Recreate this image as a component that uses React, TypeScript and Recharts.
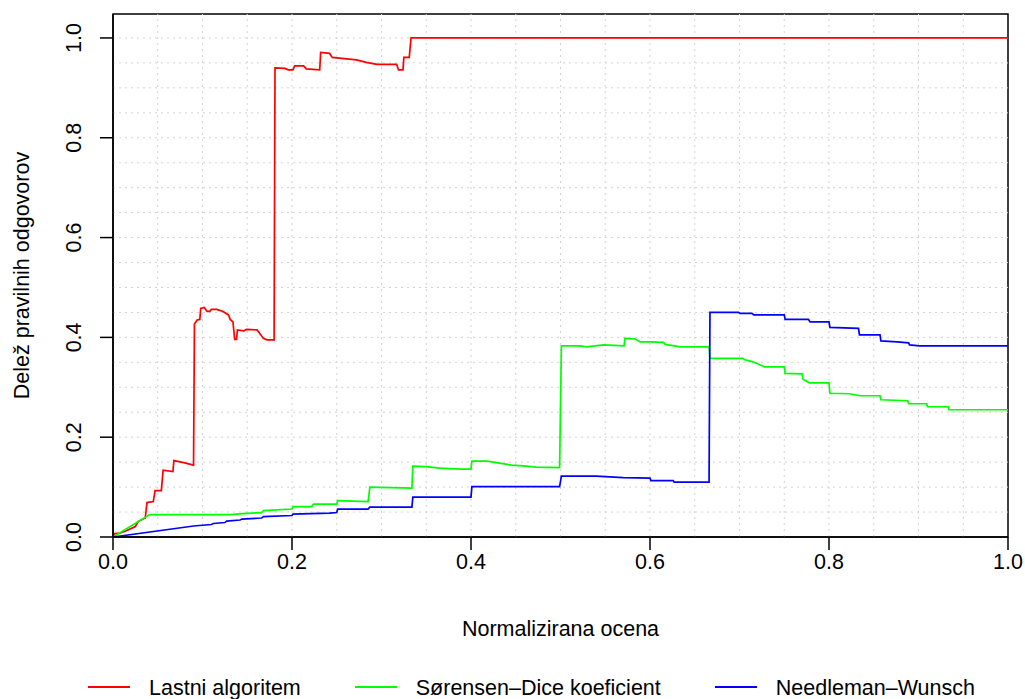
import React from 'react';
import { LineChart, Line, XAxis, YAxis, ReferenceLine, ReferenceArea } from 'recharts';

const FONT = '"Liberation Sans", Arial, Helvetica, sans-serif';
const FONT_SIZE = 21.5;

// Lastni algoritem
const lastniX = [
  0, 0.002, 0.008, 0.013, 0.025, 0.028, 0.036, 0.038, 0.045, 0.047, 0.054, 0.056, 0.067, 0.068,
  0.079, 0.09, 0.091, 0.094, 0.097, 0.098, 0.102, 0.105, 0.108, 0.11, 0.116, 0.123, 0.129, 0.131,
  0.134, 0.136, 0.138, 0.139, 0.146, 0.149, 0.161, 0.164, 0.168, 0.172, 0.18, 0.181, 0.192, 0.196,
  0.201, 0.203, 0.213, 0.216, 0.231, 0.232, 0.242, 0.245, 0.272, 0.283, 0.295, 0.317, 0.319, 0.324,
  0.325, 0.331, 0.333, 1.0,
];
const lastniY = [
  0, 0.007, 0.008, 0.011, 0.021, 0.031, 0.038, 0.069, 0.071, 0.093, 0.093, 0.134, 0.131, 0.153,
  0.149, 0.144, 0.427, 0.435, 0.436, 0.458, 0.46, 0.452, 0.452, 0.456, 0.456, 0.452, 0.445, 0.436,
  0.431, 0.396, 0.396, 0.415, 0.413, 0.416, 0.415, 0.408, 0.398, 0.395, 0.395, 0.94, 0.939, 0.936,
  0.936, 0.944, 0.944, 0.938, 0.936, 0.971, 0.969, 0.961, 0.956, 0.951, 0.947, 0.947, 0.936, 0.936,
  0.961, 0.961, 1.0, 1.0,
];

// Sørensen–Dice koeficient
const diceX = [
  0, 0.041, 0.131, 0.145, 0.166, 0.168, 0.2, 0.201, 0.222, 0.224, 0.25, 0.251, 0.285, 0.287, 0.334,
  0.335, 0.35, 0.365, 0.388, 0.4, 0.401, 0.418, 0.432, 0.445, 0.462, 0.473, 0.499, 0.501, 0.522,
  0.529, 0.548, 0.571, 0.572, 0.583, 0.589, 0.6, 0.615, 0.617, 0.634, 0.666, 0.667, 0.704, 0.706,
  0.715, 0.728, 0.75, 0.751, 0.77, 0.771, 0.778, 0.8, 0.801, 0.823, 0.835, 0.857, 0.858, 0.888,
  0.889, 0.909, 0.91, 0.933, 0.934, 1.0,
];
const diceY = [
  0, 0.045, 0.045, 0.047, 0.049, 0.053, 0.056, 0.061, 0.061, 0.066, 0.066, 0.073, 0.071, 0.1, 0.098,
  0.142, 0.141, 0.138, 0.136, 0.136, 0.152, 0.152, 0.148, 0.144, 0.142, 0.14, 0.139, 0.383, 0.383,
  0.381, 0.385, 0.383, 0.398, 0.397, 0.391, 0.391, 0.39, 0.386, 0.381, 0.381, 0.358, 0.358, 0.355,
  0.351, 0.341, 0.341, 0.328, 0.327, 0.316, 0.309, 0.309, 0.288, 0.287, 0.283, 0.283, 0.275, 0.273,
  0.267, 0.267, 0.261, 0.261, 0.255, 0.255,
];

// Needleman–Wunsch
const nwX = [
  0, 0.09, 0.11, 0.112, 0.125, 0.127, 0.142, 0.144, 0.166, 0.168, 0.2, 0.201, 0.242, 0.25, 0.251,
  0.285, 0.287, 0.334, 0.335, 0.4, 0.401, 0.499, 0.501, 0.54, 0.57, 0.6, 0.601, 0.626, 0.627, 0.666,
  0.667, 0.699, 0.701, 0.714, 0.716, 0.75, 0.751, 0.777, 0.779, 0.8, 0.801, 0.833, 0.834, 0.857,
  0.858, 0.876, 0.889, 0.89, 0.901, 1.0,
];
const nwY = [
  0, 0.022, 0.025, 0.027, 0.029, 0.032, 0.034, 0.036, 0.038, 0.041, 0.043, 0.046, 0.048, 0.049, 0.056,
  0.056, 0.06, 0.06, 0.08, 0.08, 0.101, 0.101, 0.122, 0.122, 0.119, 0.118, 0.113, 0.113, 0.11, 0.11,
  0.45, 0.45, 0.448, 0.448, 0.445, 0.445, 0.436, 0.436, 0.431, 0.431, 0.42, 0.418, 0.405, 0.405,
  0.393, 0.391, 0.389, 0.385, 0.383, 0.383,
];

const seriesNames = ['Lastni algoritem', 'Sørensen–Dice koeficient', 'Needleman–Wunsch'];
const seriesColors = ['#FF0000', '#00FF00', '#0000FF'];

const xTicks = [0, 0.2, 0.4, 0.6, 0.8, 1.0];
const yTicks = [0, 0.2, 0.4, 0.6, 0.8, 1.0];
const xGrid = [0.05, 0.1, 0.15, 0.2, 0.25, 0.3, 0.35, 0.4, 0.45, 0.5, 0.55, 0.6, 0.65, 0.7, 0.75, 0.8, 0.85, 0.9, 0.95];
const yGrid = [0.05, 0.1, 0.15, 0.2, 0.25, 0.3, 0.35, 0.4, 0.45, 0.5, 0.55, 0.6, 0.65, 0.7, 0.75, 0.8, 0.85, 0.9, 0.95, 1.0];
const Y_MAX = 1.048;

const toRows = (xs: number[], ys: number[]) => xs.map((x, i) => ({ x, y: ys[i] }));
const seriesData = [toRows(lastniX, lastniY), toRows(diceX, diceY), toRows(nwX, nwY)];

const YTick = ({ x, y, payload }: any) => (
  <text
    x={x}
    y={y}
    transform={`rotate(-90 ${x} ${y})`}
    textAnchor="middle"
    fontSize={FONT_SIZE}
    fontFamily={FONT}
    fill="#000"
  >
    {Number(payload.value).toFixed(1)}
  </text>
);

const XTick = ({ x, y, payload }: any) => (
  <text x={x} y={y + 15} textAnchor="middle" fontSize={FONT_SIZE} fontFamily={FONT} fill="#000">
    {Number(payload.value).toFixed(1)}
  </text>
);

const YTitle = ({ viewBox }: any) => {
  const cx = viewBox.x + 16;
  const cy = viewBox.y + viewBox.height / 2;
  return (
    <text
      x={cx}
      y={cy}
      transform={`rotate(-90 ${cx} ${cy})`}
      textAnchor="middle"
      fontSize={FONT_SIZE}
      fontFamily={FONT}
      fill="#000"
    >
      Delež pravilnih odgovorov
    </text>
  );
};

const XTitle = ({ viewBox }: any) => (
  <text
    x={viewBox.x + viewBox.width / 2}
    y={viewBox.y + 99}
    textAnchor="middle"
    fontSize={FONT_SIZE}
    fontFamily={FONT}
    fill="#000"
  >
    Normalizirana ocena
  </text>
);

export default function App() {
  return (
    <div
      style={{
        position: 'absolute',
        left: 0,
        top: 0,
        width: 1025,
        height: 699,
        background: '#fff',
        fontFamily: FONT,
        overflow: 'hidden',
      }}
    >
      <LineChart width={1025} height={699} margin={{ top: 14, right: 17, left: 13, bottom: 62 }}>
        <XAxis
          dataKey="x"
          type="number"
          domain={[0, 1]}
          allowDataOverflow
          ticks={xTicks}
          tick={<XTick />}
          tickSize={13}
          tickMargin={4}
          height={100}
          axisLine={{ stroke: '#000', strokeWidth: 1.5 }}
          tickLine={{ stroke: '#000', strokeWidth: 1.5 }}
          label={<XTitle />}
        />
        <YAxis
          type="number"
          domain={[0, Y_MAX]}
          allowDataOverflow
          ticks={yTicks}
          tick={<YTick />}
          tickSize={13}
          tickMargin={19}
          width={100}
          axisLine={{ stroke: '#000', strokeWidth: 1.5 }}
          tickLine={{ stroke: '#000', strokeWidth: 1.5 }}
          label={<YTitle />}
        />
        {xGrid.map((v) => (
          <ReferenceLine key={`gx${v}`} x={v} stroke="#d3d3d3" strokeDasharray="2 4" strokeWidth={1} />
        ))}
        {yGrid.map((v) => (
          <ReferenceLine key={`gy${v}`} y={v} stroke="#d3d3d3" strokeDasharray="2 4" strokeWidth={1} />
        ))}
        {/* plot box, like R's box() */}
        <ReferenceArea
          x1={0}
          x2={1}
          y1={0}
          y2={Y_MAX}
          fill="none"
          fillOpacity={0}
          stroke="#000"
          strokeWidth={1.5}
        />
        {seriesData.map((rows, i) => (
          <Line
            key={seriesNames[i]}
            data={rows}
            dataKey="y"
            name={seriesNames[i]}
            type="linear"
            stroke={seriesColors[i]}
            strokeWidth={1.7}
            dot={false}
            activeDot={false}
            isAnimationActive={false}
          />
        ))}
      </LineChart>

      {/* legend below the plot, like R's horizontal legend */}
      <div
        style={{
          position: 'absolute',
          top: 678,
          left: 88,
          display: 'flex',
          alignItems: 'center',
          gap: 54,
          fontSize: FONT_SIZE,
          lineHeight: 1,
          whiteSpace: 'nowrap',
        }}
      >
        {seriesNames.map((name, i) => (
          <div key={name} style={{ display: 'flex', alignItems: 'center' }}>
            <div
              style={{
                width: 42,
                height: 2,
                background: seriesColors[i],
                marginRight: 19,
                position: 'relative',
                top: -2,
              }}
            />
            <span style={{ color: '#000' }}>{name}</span>
          </div>
        ))}
      </div>
    </div>
  );
}
